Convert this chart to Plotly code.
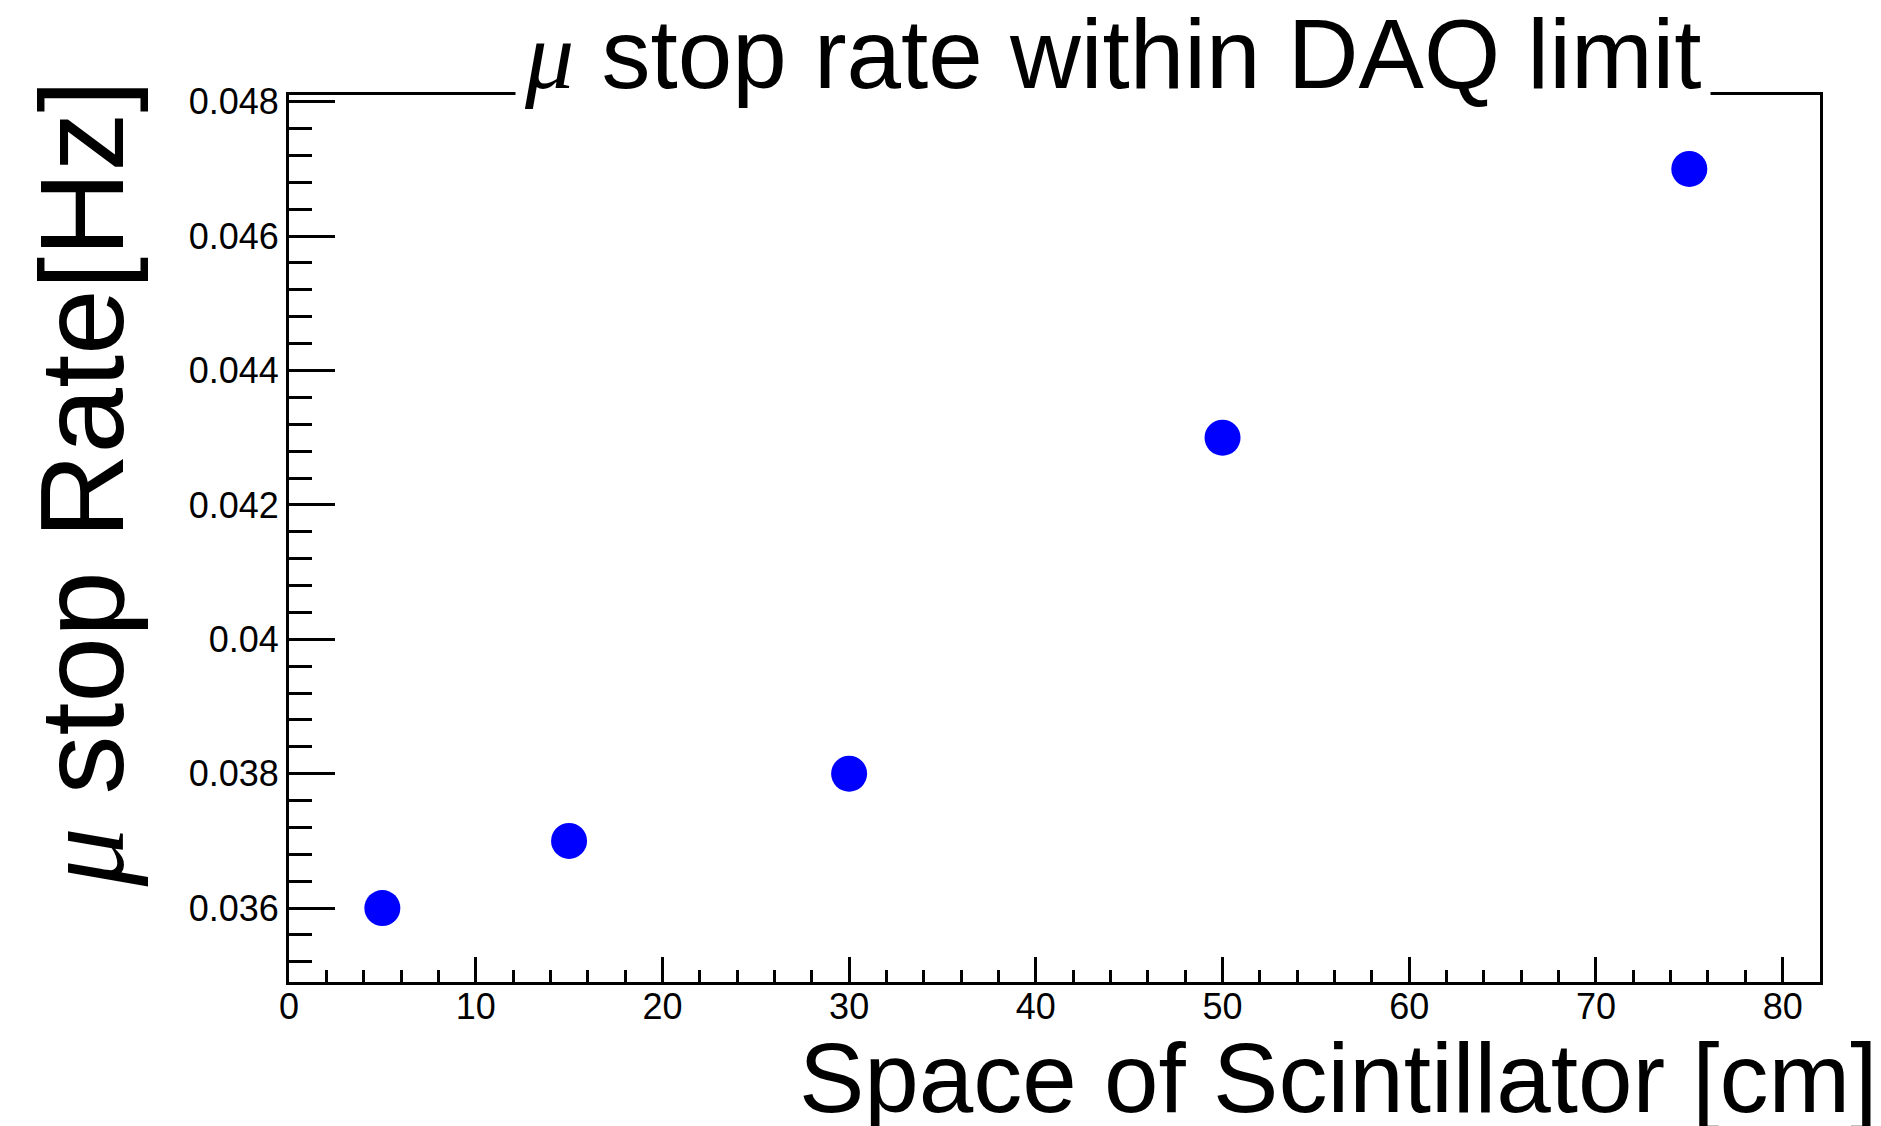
import plotly.graph_objects as go

# Data
space_cm = [5, 15, 30, 50, 75]
stop_rate_hz = [0.036, 0.037, 0.038, 0.043, 0.047]

x_tickvals = [0, 10, 20, 30, 40, 50, 60, 70, 80]
x_ticktext = ["0", "10", "20", "30", "40", "50", "60", "70", "80"]
y_tickvals = [0.036, 0.038, 0.040, 0.042, 0.044, 0.046, 0.048]
y_ticktext = ["0.036", "0.038", "0.04", "0.042", "0.044", "0.046", "0.048"]

title_text = "μ stop rate within DAQ limit"
x_title = "Space of Scintillator [cm]"
y_title = "μ stop Rate[Hz]"

W, H = 1881, 1126
L, R, T, B = 289, 61, 95, 144
pw = W - L - R
ph = H - T - B

def px_to_paper_x(px):
    return (px - L) / pw

def px_to_paper_y(py):
    return 1 - (py - T) / ph

def mu_html(s):
    return s.replace("μ", "<span style=\"font-family:'Liberation Serif'\"><i>μ</i></span>", 1)

fig = go.Figure()
fig.add_trace(go.Scatter(
    x=space_cm, y=stop_rate_hz, mode="markers",
    marker=dict(color="#0000ff", size=36, line=dict(width=0)),
    showlegend=False, hoverinfo="skip",
))

axis_common = dict(
    showgrid=False, zeroline=False, showline=True, linecolor="black",
    linewidth=3, mirror=True, ticks="inside", tickcolor="black",
    tickwidth=2.5,
    tickfont=dict(family="Liberation Sans, Arial, sans-serif", size=36, color="black"),
)

fig.update_xaxes(
    range=[0, 82], tickmode="array", tickvals=x_tickvals, ticktext=x_ticktext,
    ticklen=25,
    minor=dict(ticks="inside", ticklen=12, tickwidth=2.5, tickcolor="black",
               tickmode="linear", tick0=0, dtick=2),
    ticklabelstandoff=-9,
    **axis_common,
)
fig.update_yaxes(
    range=[0.0349, 0.0481], tickmode="array", tickvals=y_tickvals, ticktext=y_ticktext,
    ticklen=46,
    minor=dict(ticks="inside", ticklen=23, tickwidth=2.5, tickcolor="black",
               tickmode="linear", tick0=0.036, dtick=0.0004),
    ticklabelstandoff=0,
    **axis_common,
)

fig.add_annotation(
    text=mu_html(title_text), xref="paper", yref="paper",
    x=px_to_paper_x(1113), y=1, xanchor="center", yanchor="bottom", yshift=-23,
    showarrow=False, bgcolor="white", borderpad=8,
    font=dict(family="Liberation Sans, Arial, sans-serif", size=98, color="black"),
)
fig.add_annotation(
    text=mu_html(x_title), xref="paper", yref="paper",
    x=px_to_paper_x(1879), y=0, xanchor="right", yanchor="top", yshift=-39,
    showarrow=False,
    font=dict(family="Liberation Sans, Arial, sans-serif", size=98, color="black"),
)
fig.add_annotation(
    text=mu_html(y_title), xref="paper", yref="paper", textangle=-90,
    x=px_to_paper_x(150), y=px_to_paper_y(78), xanchor="right", yanchor="top",
    showarrow=False,
    font=dict(family="Liberation Sans, Arial, sans-serif", size=118, color="black"),
)

fig.update_layout(
    width=W, height=H,
    margin=dict(l=L, r=R, t=T, b=B, autoexpand=False),
    paper_bgcolor="white", plot_bgcolor="white",
)

fig.write_html("out.html")
